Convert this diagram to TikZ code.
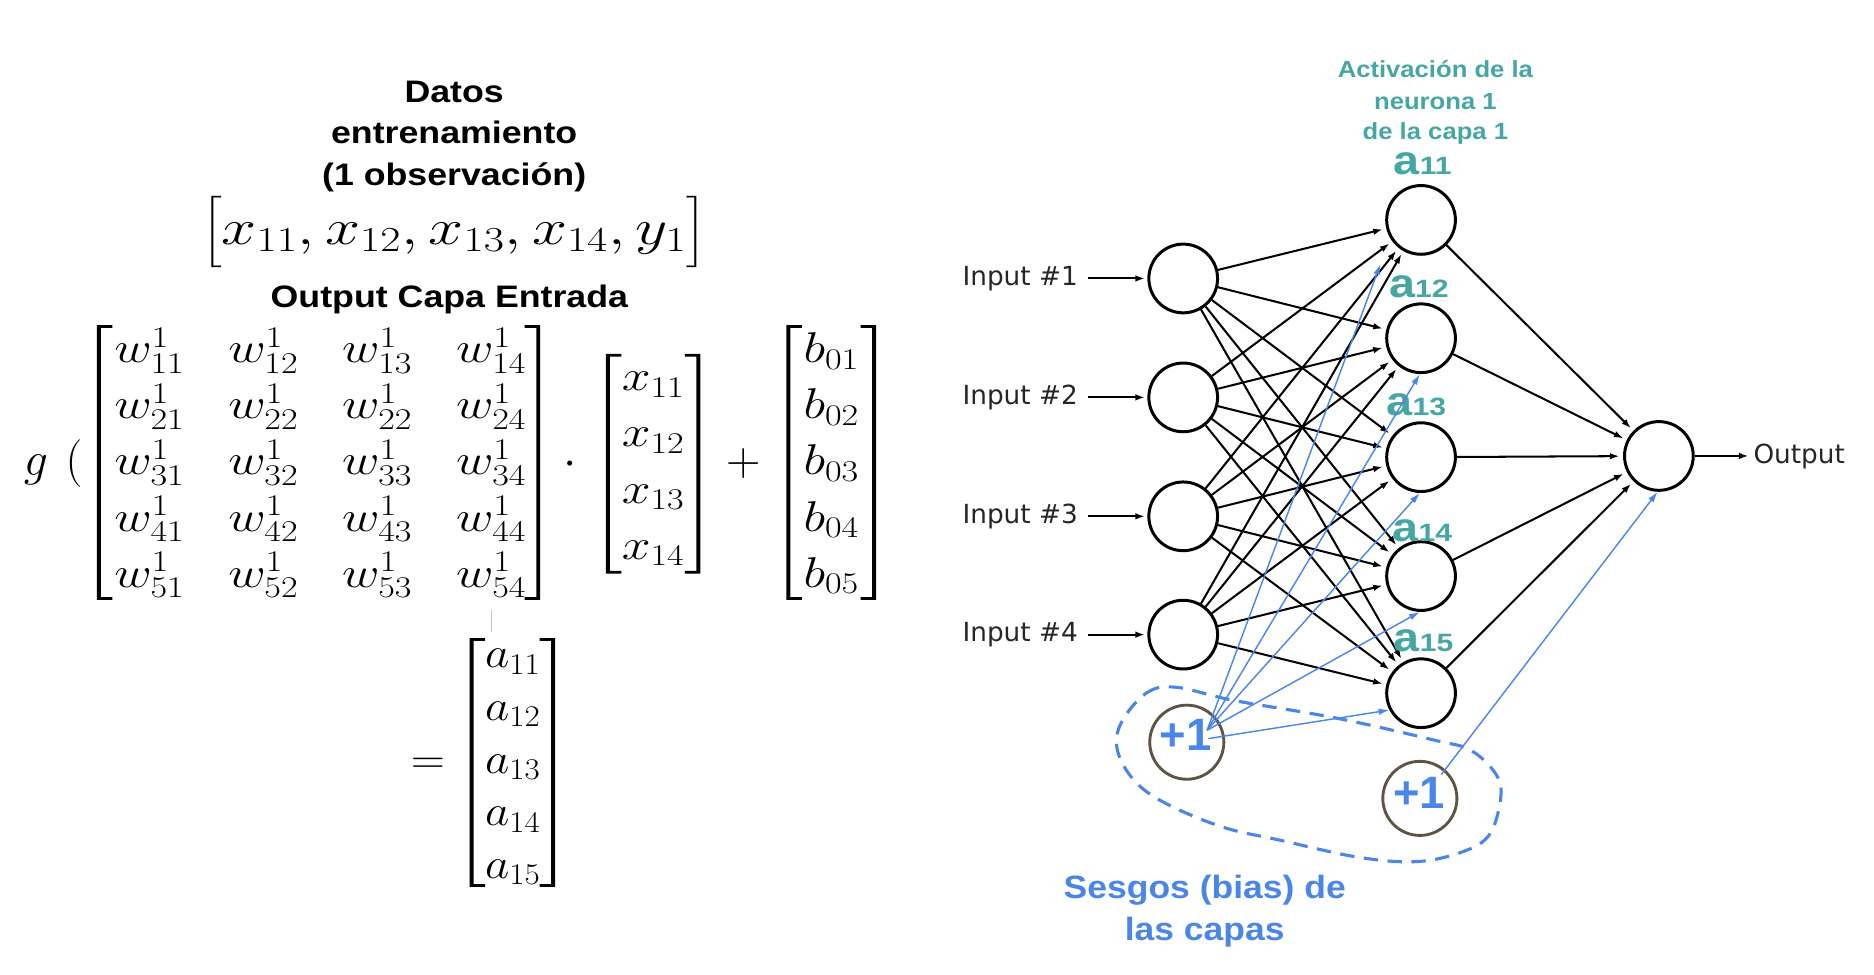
\RequirePackage{fix-cm}
\documentclass[tikz,border=0pt]{standalone}
\usepackage{amsmath}
\usepackage{graphicx}
\usepackage{fontspec}
\newfontfamily\sansf{Liberation Sans}
\newfontfamily\dejavu{DejaVu Sans}
\usetikzlibrary{arrows.meta}
\definecolor{tealc}{HTML}{45A6A3}
\definecolor{gblue}{HTML}{4A86E8}
\definecolor{biasc}{HTML}{5F5443}
\definecolor{inkc}{HTML}{262626}
\newcommand{\sx}[2]{\scalebox{#1}[1]{#2}}
% left bracket: outer x, top y, bottom y
\newcommand{\drawLB}[3]{\fill (#1,#2) -- ++(13,0) -- ++(0,2.3) -- ++(-9.7,0) -- (#1+3.3,#3-2.3) -- ++(9.7,0) -- ++(0,2.3) -- (#1,#3) -- cycle;}
\newcommand{\drawRB}[3]{\fill (#1,#2) -- ++(-13,0) -- ++(0,2.3) -- ++(9.7,0) -- (#1-3.3,#3-2.3) -- ++(-9.7,0) -- ++(0,2.3) -- (#1,#3) -- cycle;}
\begin{document}
\begin{tikzpicture}[x=1pt,y=-1pt,
  ttl/.style={font=\sansf\bfseries\fontsize{26}{30}\selectfont, anchor=base, inner sep=0pt},
  eqn/.style={font=\fontsize{40}{47}\selectfont, inner sep=0pt},
  mat/.style={font=\fontsize{36}{47}\selectfont, inner sep=0pt},
  eqs/.style={font=\fontsize{36}{44}\selectfont, inner sep=0pt},
  neuron/.style={circle, draw=black, line width=2.5pt, minimum size=57.5pt, inner sep=0pt},
  bias/.style={circle, draw=biasc, line width=2.4pt, minimum size=62pt, inner sep=0pt},
  biastext/.style={font=\sansf\bfseries\fontsize{38}{38}\selectfont, text=gblue, inner sep=0pt},
  inlab/.style={font=\dejavu\fontsize{22}{22}\selectfont, text=inkc, inner sep=0pt},
  conn/.style={line width=1.7pt, -{Latex[length=8pt,width=5.5pt]}, shorten >=3pt},
  bconn/.style={gblue, line width=1.2pt, -{Latex[length=9pt,width=5.5pt]}},
  actlab/.style={text=tealc, anchor=base west, inner sep=0pt},
  tealtxt/.style={font=\sansf\bfseries\fontsize{19.5}{24}\selectfont, text=tealc, anchor=base, inner sep=0pt},
  bluetxt/.style={font=\sansf\bfseries\fontsize{27}{32}\selectfont, text=gblue, anchor=base, inner sep=0pt},
  loopline/.style={gblue, line width=2.6pt, dash pattern=on 12pt off 8pt},
]
\useasboundingbox[fill=white] (0,0) rectangle (1568,815);

% ---------------- left: equations ----------------
\node[ttl] (t1) at (380,86) {\sx{1.15}{Datos}};
\node[ttl] (t2) at (380,120) {\sx{1.15}{entrenamiento}};
\node[ttl] (t3) at (380,155) {\sx{1.15}{(1 observación)}};
\node[font=\fontsize{42}{61}\selectfont, inner sep=0pt] (vec) at (380,194)
  {\sx{1.25}{$\bigl[x_{11}, x_{12}, x_{13}, x_{14}, y_1\bigr]$}};
\node[ttl] (t4) at (376,257) {\sx{1.15}{Output Capa Entrada}};

\node[eqn, anchor=base] (g) at (30,398) {$g$};
\node[eqn, anchor=base] (par) at (62,398) {$($};
\node[mat] (W) at (268,388) {\sx{1.2}{\setlength{\arraycolsep}{15.3pt}$\begin{matrix}
w^1_{11} & w^1_{12} & w^1_{13} & w^1_{14}\\
w^1_{21} & w^1_{22} & w^1_{22} & w^1_{24}\\
w^1_{31} & w^1_{32} & w^1_{33} & w^1_{34}\\
w^1_{41} & w^1_{42} & w^1_{43} & w^1_{44}\\
w^1_{51} & w^1_{52} & w^1_{53} & w^1_{54}
\end{matrix}$}};
\drawLB{81}{272}{502}
\drawRB{452}{272}{502}
\node[eqn, anchor=base] (dot) at (477,398) {$\cdot$};
\node[mat] (X) at (546.5,388) {\sx{1.2}{$\begin{matrix} x_{11}\\ x_{12}\\ x_{13}\\ x_{14}\end{matrix}$}};
\drawLB{507}{296}{480}
\drawRB{586}{296}{480}
\node[eqn, anchor=base] (plus) at (622,398) {$+$};
\node[mat] (B) at (695.5,388) {\sx{1.2}{$\begin{matrix} b_{01}\\ b_{02}\\ b_{03}\\ b_{04}\\ b_{05}\end{matrix}$}};
\drawLB{658}{272}{502}
\drawRB{733}{272}{502}
\draw[gray!45, line width=0.7pt] (411,510) -- (411,529);
\node[eqs, anchor=base] (eq) at (358,647) {\sx{1.1}{$=$}};
\node[eqs] (A) at (429,638) {\sx{1.1}{$\begin{matrix} a_{11}\\ a_{12}\\ a_{13}\\ a_{14}\\ a_{15}\end{matrix}$}};
\drawLB{393}{534}{742}
\drawRB{464.5}{534}{742}

% ---------------- right: network ----------------
\node[tealtxt] (act1) at (1201,64.7) {\sx{1.1}{Activación de la}};
\node[tealtxt] (act2) at (1201,92) {\sx{1.1}{neurona 1}};
\node[tealtxt] (act3) at (1201,116.6) {\sx{1.1}{de la capa 1}};

\node[neuron] (I1) at (990,233) {};
\node[neuron] (I2) at (990,332.5) {};
\node[neuron] (I3) at (990,432) {};
\node[neuron] (I4) at (990,531) {};
\node[neuron] (H1) at (1189,184) {};
\node[neuron] (H2) at (1189,283) {};
\node[neuron] (H3) at (1189,382.5) {};
\node[neuron] (H4) at (1189,482) {};
\node[neuron] (H5) at (1189,580) {};
\node[neuron] (O) at (1388,381.5) {};
\node[bias] (B1) at (993,621) {};
\node[bias] (B2) at (1188,668) {};
\node[biastext] (B1t) at (992,615) {+1};
\node[biastext] (B2t) at (1187.5,663) {+1};

\node[inlab, anchor=base east] (L1) at (902,239) {Input \#1};
\node[inlab, anchor=base east] (L2) at (902,338.5) {Input \#2};
\node[inlab, anchor=base east] (L3) at (902,438) {Input \#3};
\node[inlab, anchor=base east] (L4) at (902,537) {Input \#4};
\node[inlab, anchor=base west] (Out) at (1467,388) {Output};

\foreach \i in {1,...,4}{
  \draw[conn, shorten <=8pt, shorten >=2pt] (L\i.east |- I\i) -- (I\i);
}
\draw[conn, shorten >=4pt] (O) -- (O -| Out.west);

\foreach \i in {1,...,4}{
  \foreach \j in {1,...,5}{
    \draw[conn] (I\i) -- (H\j);
  }
}
\foreach \j in {1,...,5}{
  \draw[conn] (H\j) -- (O);
}

\newcommand{\actl}[1]{{\sansf\bfseries\fontsize{34}{34}\selectfont\sx{1.15}{a}}{\sansf\bfseries\fontsize{21}{21}\selectfont\sx{1.2}{#1}}}
\node[actlab] (a1) at (1166,146) {\actl{11}};
\node[actlab] (a2) at (1162,249) {\actl{12}};
\node[actlab] (a3) at (1160,348) {\actl{13}};
\node[actlab] (a4) at (1165,453) {\actl{14}};
\node[actlab] (a5) at (1166,545.5) {\actl{15}};

% bias connections
\coordinate (bs) at (1010,611);
\coordinate (bs5) at (1011,618);
\coordinate (bs2) at (1206,648);
\coordinate (T1) at (1155,221);
\draw[bconn] (bs) -- (T1);
\draw[bconn] (bs) -- (H2.268);
\draw[bconn] (bs) -- (H3.268);
\draw[bconn] (bs) -- (H4.268);
\draw[bconn] (bs5) -- (H5.208);
\draw[bconn] (bs2) -- (O.268);

\draw[loopline] plot[smooth cycle, tension=0.6] coordinates {
 (938,605) (959,580) (984,575) (1032,586) (1119,601) (1199,619) (1231,628)
 (1253,650) (1255,672) (1245,700) (1220,714) (1183,721) (1135,717) (1071,703)
 (1023,692) (975,672) (949,653) (935,628)};

\node[bluetxt] (s1) at (1008,752) {\sx{1.1}{Sesgos (bias) de}};
\node[bluetxt] (s2) at (1008,786.6) {\sx{1.1}{las capas}};
\end{tikzpicture}
\end{document}
